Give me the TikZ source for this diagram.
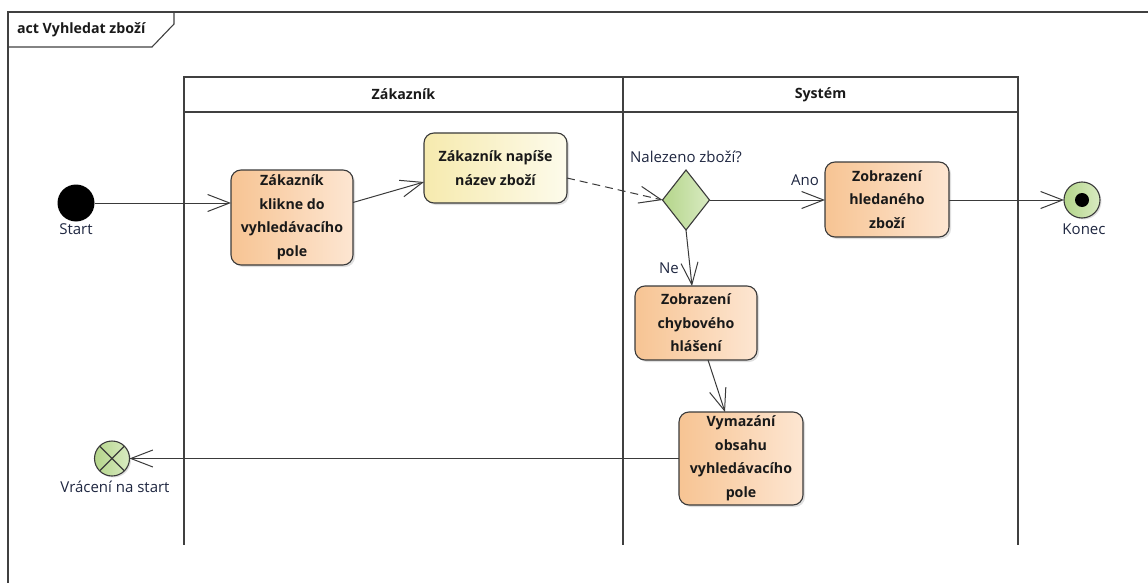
\documentclass[tikz,border=0pt]{standalone}
\usepackage{fontspec}
\setmainfont{Open Sans}
\usetikzlibrary{arrows.meta,shapes.geometric,shadows}
\definecolor{edge}{HTML}{3A3A3A}
\definecolor{orangeL}{HTML}{F7C493}
\definecolor{orangeR}{HTML}{FDE6D2}
\definecolor{yellowL}{HTML}{F6EAAE}
\definecolor{yellowR}{HTML}{FDFBEB}
\definecolor{greenL}{HTML}{B4D58A}
\definecolor{greenR}{HTML}{D9EBC2}
\definecolor{labelc}{HTML}{1E2640}
\tikzset{
  x=1pt, y=-1pt,
  every node/.style={inner sep=0pt, outer sep=0pt},
  lbl/.style={font=\fontsize{15}{18}\selectfont, text=labelc},
  boxtext/.style={font=\fontsize{14.2}{23.5}\selectfont\bfseries, align=center, text=black!90},
  action/.style={boxtext, rectangle, rounded corners=10pt, draw=edge, line width=1.1pt,
    left color=orangeL, right color=orangeR,
    drop shadow={shadow xshift=2pt, shadow yshift=-2pt, opacity=0.25}},
  actionY/.style={action, left color=yellowL, right color=yellowR},
  decision/.style={diamond, draw=edge, line width=1.1pt, left color=greenL, right color=greenR},
  flow/.style={draw=edge, line width=1pt, -{Straight Barb[length=22pt,width=17pt,line width=1pt]}},
  lane/.style={draw=black!75, line width=1.4pt},
  lanehead/.style={lane, rectangle, font=\fontsize{14.2}{17}\selectfont\bfseries, text=black!90},
  finalnode/.style={circle, draw=edge, line width=1.1pt, minimum size=36pt,
    left color=greenL, right color=greenR,
    drop shadow={shadow xshift=1.5pt, shadow yshift=-1.5pt, opacity=0.25}}
}
\begin{document}
\begin{tikzpicture}
\useasboundingbox (0,0) rectangle (1148,583);

% diagram frame with its name tab
\draw[lane] (8,583) -- (8,12) -- (1148,12);
\draw[lane, line width=1.1pt] (8,47) -- (152,47) -- (174,24) -- (174,12);
\node[anchor=west, font=\fontsize{14.2}{17}\selectfont\bfseries, text=black!90] (title) at (17,30) {act Vyhledat zboží};

% swimlanes
\node[lanehead, minimum width=439pt, minimum height=35pt] (laneA) at (403.5,94.5) {Zákazník};
\node[lanehead, minimum width=395pt, minimum height=35pt] (laneB) at (820.5,94.5) {Systém};
\draw[lane] (laneA.south west) -- ++(0,433);
\draw[lane] (laneB.south west) -- ++(0,433);
\draw[lane] (laneB.south east) -- ++(0,433);

% nodes
\node[circle, fill=black, minimum size=37pt] (start) at (76,203) {};
\node[lbl] (startlbl) at (76,229) {Start};

\node[action, minimum width=122pt, minimum height=95pt] (click) at (292,217.5)
  {Zákazník\\klikne do\\vyhledávacího\\pole};
\node[actionY, minimum width=143pt, minimum height=70pt] (type) at (495.5,168)
  {Zákazník napíše\\název zboží};
\node[decision, minimum width=47pt, minimum height=60pt, aspect=0.78] (dec) at (686,200) {};
\node[lbl] (declbl) at (686,157) {Nalezeno zboží?};

\node[action, minimum width=124pt, minimum height=75pt] (show) at (887,199.5)
  {Zobrazení\\hledaného\\zboží};
\node[lbl] (ano) at (805,180) {Ano};

\node[finalnode] (end) at (1082,200) {};
\fill[black] (end.center) circle[radius=7pt];
\node[lbl] (endlbl) at (1084,229) {Konec};

\node[action, minimum width=122pt, minimum height=74pt] (err) at (696,323)
  {Zobrazení\\chybového\\hlášení};
\node[lbl] (ne) at (669,268) {Ne};

\node[action, minimum width=124pt, minimum height=93pt] (clear) at (741,458.5)
  {Vymazání\\obsahu\\vyhledávacího\\pole};

\node[finalnode, minimum size=35pt,
  path picture={\draw[edge, line width=1.1pt]
    (path picture bounding box.north west) -- (path picture bounding box.south east)
    (path picture bounding box.north east) -- (path picture bounding box.south west);}]
  (back) at (112,458.5) {};
\node[lbl] (backlbl) at (115,487) {Vrácení na start};

% connectors
\draw[flow] (start) -- (click.west |- start);
\draw[flow] ([yshift=15pt]click.east) -- ([yshift=-14pt]type.west);
\draw[flow, dashed, dash pattern=on 8pt off 5pt] ([yshift=-10pt]type.east) -- (dec.west);
\draw[flow] (dec.east) -- (show.west |- dec.east);
\draw[flow] (show.east |- end) -- (end.west);
\draw[flow] (dec.south) -- ([xshift=-4pt]err.north);
\draw[flow] ([xshift=12pt]err.south) -- ([xshift=-16pt]clear.north);
\draw[flow] (clear.west) -- (back.east);
\end{tikzpicture}
\end{document}
